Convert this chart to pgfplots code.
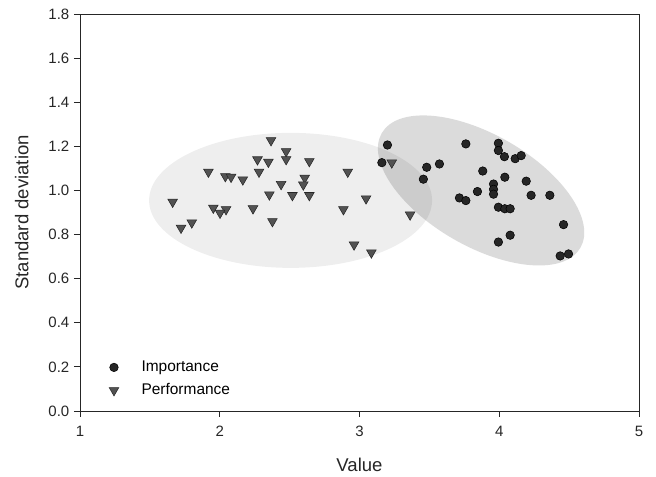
\documentclass[border=0pt]{standalone}
\usepackage{pgfplots}
\pgfplotsset{compat=1.18}
\usepackage{fontspec}
\setmainfont{Liberation Sans}
\usetikzlibrary{shapes.geometric}

\begin{document}
\begin{tikzpicture}
\begin{axis}[
    name=ax,
    scale only axis,
    width=419.25pt, height=297.75pt,
    xmin=1, xmax=5,
    ymin=0, ymax=1.8,
    xtick={1,2,3,4,5},
    ytick={0,0.2,0.4,0.6,0.8,1.0,1.2,1.4,1.6,1.8},
    yticklabel style={/pgf/number format/.cd, fixed, fixed zerofill, precision=1},
    xticklabel style={yshift=-3pt},
    /pgf/number format/assume math mode=true,
    tick align=outside,
    xtick pos=bottom, ytick pos=left,
    major tick length=4.5pt,
    tick style={black!85, line width=0.6pt},
    axis line style={black!85, line width=0.6pt},
    ticklabel style={font=\fontsize{11.25}{13}\selectfont, text=black!85},
    xlabel={Value},
    ylabel={Standard deviation},
    label style={font=\fontsize{13.9}{16}\selectfont, text=black!85},
    xlabel style={at={(rel axis cs:0.5,-0.136)}, anchor=center},
    ylabel style={at={(rel axis cs:-0.104,0.5)}, anchor=center},
    legend style={at={(rel axis cs:0.0445,0.0806)}, anchor=west, draw=none, fill=none,
        font=\fontsize{11.6}{13}\selectfont, column sep=15pt, row sep=3.5pt},
    legend cell align=left,
    clip=false,
]

% group ellipses
\node[ellipse, fill=black, fill opacity=0.065, minimum width=212.25pt, minimum height=101.25pt,
      inner sep=0pt] at (axis cs:2.507,0.955) {};
\node[ellipse, fill=black, fill opacity=0.14, minimum width=172pt, minimum height=83.8pt,
      inner sep=0pt, rotate=-30] at (axis cs:3.87,1.0) {};

% Importance
\addplot[only marks, mark=*, mark size=3.2pt, mark options={fill=black!85, draw=black}] coordinates {
    (3.761,1.211) (3.994,1.214) (3.994,1.181) (4.037,1.153) (4.114,1.144)
    (4.157,1.158) (3.572,1.120) (3.481,1.105) (3.457,1.051) (3.882,1.088)
    (4.040,1.060) (4.193,1.042) (3.959,1.029) (3.959,1.005) (3.959,0.983)
    (3.844,0.995) (4.228,0.978) (4.362,0.978) (3.715,0.966) (3.761,0.954)
    (3.994,0.924) (4.040,0.917) (4.078,0.917) (4.460,0.845) (4.078,0.797)
    (3.994,0.766) (4.436,0.703) (4.496,0.712) (3.200,1.206) (3.160,1.126)
};
\addlegendentry{Importance}

% Performance
\addplot[only marks, mark=triangle*, mark size=4.2pt,
         mark options={rotate=180, fill=black!68, draw=black!85}] coordinates {
    (2.367,1.227) (2.475,1.177) (2.475,1.141) (2.270,1.140) (2.348,1.129)
    (2.281,1.084) (1.919,1.084) (2.040,1.064) (2.081,1.061) (2.165,1.049)
    (2.439,1.028) (2.355,0.981) (2.520,0.978) (1.663,0.948) (1.954,0.921)
    (2.045,0.914) (2.002,0.898) (2.238,0.918) (2.377,0.860) (1.800,0.854)
    (1.723,0.830) (2.641,1.132) (2.608,1.057) (2.598,1.026) (2.641,0.978)
    (2.916,1.084) (3.047,0.963) (2.885,0.914) (3.231,1.126) (3.362,0.890)
    (2.961,0.754) (3.085,0.718)
};
\addlegendentry{Performance}

\end{axis}
\pgfresetboundingbox
\path ([shift={(-60pt,-49.5pt)}]ax.south west) rectangle ([shift={(12.75pt,10.5pt)}]ax.north east);
\end{tikzpicture}
\end{document}
